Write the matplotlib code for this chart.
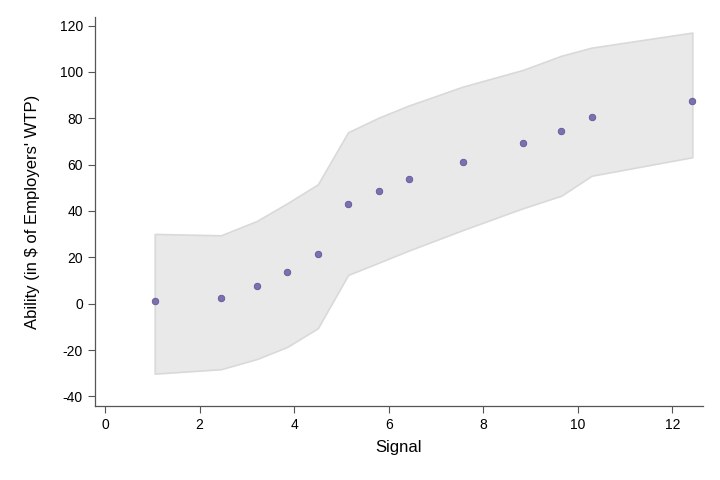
import matplotlib
matplotlib.use("Agg")
import matplotlib.pyplot as plt

signal = [1.05, 2.45, 3.21, 3.85, 4.50, 5.14, 5.79, 6.42, 7.57, 8.84, 9.65, 10.29, 12.42]
ability = [1.3, 2.5, 7.5, 13.5, 21.3, 43.0, 48.5, 53.7, 61.2, 69.5, 74.7, 80.7, 87.4]
upper = [30.1, 29.5, 35.7, 43.3, 51.5, 74.0, 80.3, 85.5, 93.7, 100.9, 107.0, 110.5, 117.0]
lower = [-30.2, -28.3, -23.9, -18.7, -10.6, 12.4, 17.7, 22.9, 31.8, 41.2, 46.6, 55.2, 63.2]
xticks = [0, 2, 4, 6, 8, 10, 12]
yticks = [-40, -20, 0, 20, 40, 60, 80, 100, 120]

plt.rcParams['font.family'] = ['Liberation Sans', 'DejaVu Sans']
plt.rcParams['axes.unicode_minus'] = False

fig = plt.figure(figsize=(7.2, 4.8), dpi=100)
ax = fig.add_axes([0.1315, 0.154, 0.8445, 0.81])

ax.fill_between(signal, lower, upper, facecolor='#e9e9e9', edgecolor='#d9d9d9', linewidth=1.2, zorder=1)
ax.scatter(signal, ability, s=22, color='#7e70ae', edgecolors='#62559a', linewidths=0.6, zorder=3)

ax.set_xlim(-0.22, 12.64)
ax.set_ylim(-44.2, 123.6)
ax.set_xticks(xticks)
ax.set_yticks(yticks)
for s in ['top', 'right']:
    ax.spines[s].set_visible(False)
for s in ['left', 'bottom']:
    ax.spines[s].set_color('#555555')
    ax.spines[s].set_linewidth(0.9)
ax.tick_params(direction='out', length=5, width=0.8, color='#555555', labelsize=10, labelcolor='black')
ax.set_xlabel('Signal', fontsize=12, labelpad=6)
ax.set_ylabel("Ability (in $ of Employers' WTP)", fontsize=12, labelpad=14)

fig.savefig('out.png', dpi=100)
